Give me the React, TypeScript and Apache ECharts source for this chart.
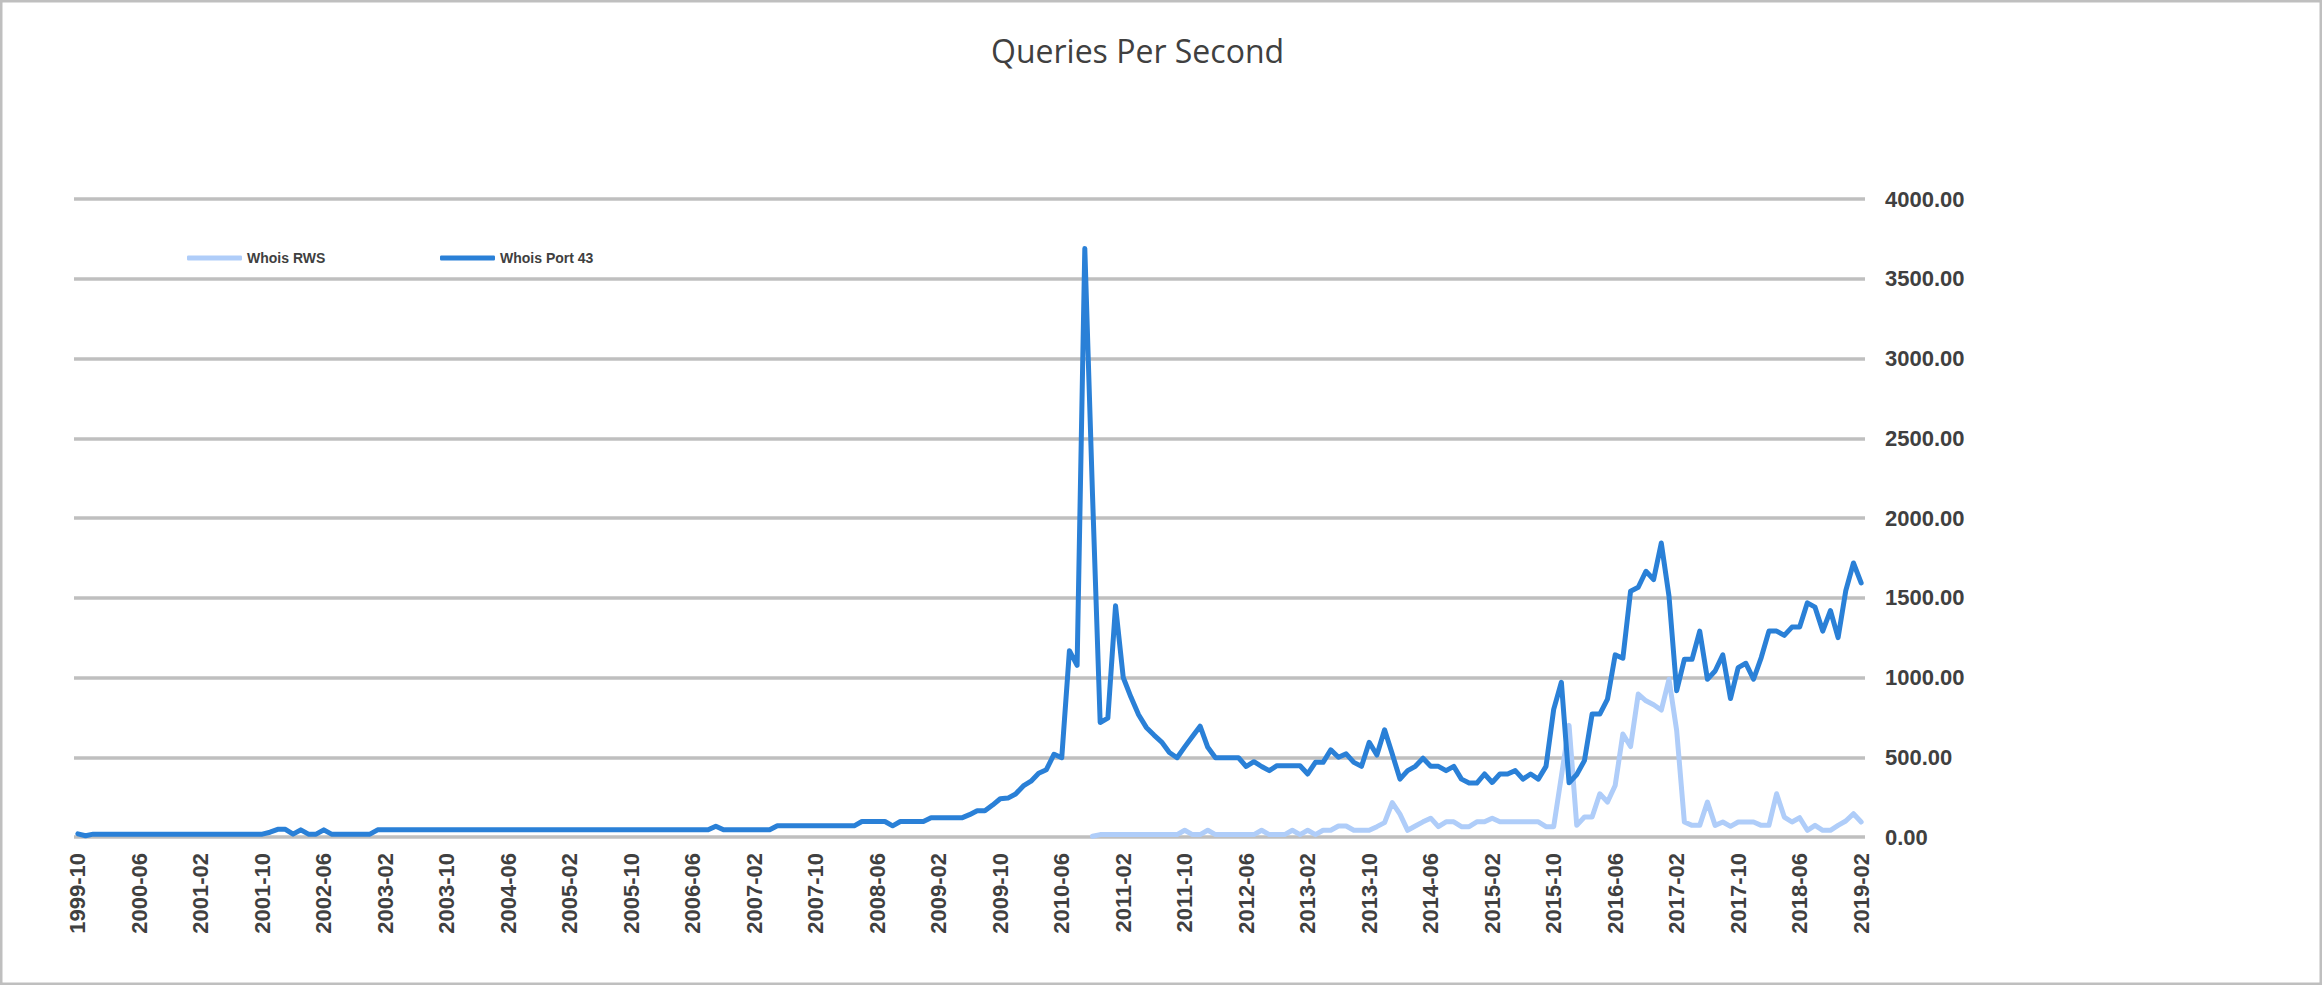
import React, { useEffect, useRef } from "react";
import * as echarts from "echarts";

// ---- categories: monthly, 1999-10 .. 2019-02 ----
const START_YEAR = 1999;
const START_MONTH = 10;
const MONTH_COUNT = 233;
function buildMonths(): string[] {
  const out: string[] = [];
  for (let i = 0; i < MONTH_COUNT; i++) {
    const t = (START_MONTH - 1) + i;
    const y = START_YEAR + Math.floor(t / 12);
    const m = (t % 12) + 1;
    out.push(`${y}-${m < 10 ? "0" + m : m}`);
  }
  return out;
}
const months = buildMonths();

// ---- Whois Port 43 (one value per month, 1999-10 .. 2019-02) ----
const port43Values: number[] = [
  20, 8, 18, 18, 18, 18, 18, 18, 18, 18, 18, 18,
  18, 18, 18, 18, 18, 18, 18, 18, 18, 18, 18, 18,
  18, 30, 48, 48, 18, 45, 18, 18, 45, 18, 18, 18,
  18, 18, 18, 45, 45, 45, 45, 45, 45, 45, 45, 45,
  45, 45, 45, 45, 45, 45, 45, 45, 45, 45, 45, 45,
  45, 45, 45, 45, 45, 45, 45, 45, 45, 45, 45, 45,
  45, 45, 45, 45, 45, 45, 45, 45, 45, 45, 45, 68,
  45, 45, 45, 45, 45, 45, 45, 70, 70, 70, 70, 70,
  70, 70, 70, 70, 70, 70, 97, 97, 97, 97, 70, 97,
  97, 97, 97, 120, 120, 120, 120, 120, 140, 165, 165, 200,
  240, 244, 270, 320, 350, 400, 422, 519, 497, 1168, 1076, 3690,
  2150, 718, 745, 1450, 1000, 877, 766, 687, 639, 595, 530, 497,
  565, 630, 695, 562, 497, 497, 497, 497, 442, 472, 442, 416,
  447, 447, 447, 447, 395, 468, 468, 546, 500, 521, 468, 443,
  594, 514, 672, 520, 363, 416, 443, 494, 443, 443, 416, 443,
  363, 338, 338, 395, 342, 395, 395, 416, 363, 395, 363, 443,
  800, 970, 340, 392, 479, 771, 771, 865, 1142, 1121, 1541, 1566,
  1666, 1614, 1843, 1510, 917, 1114, 1114, 1291, 989, 1041, 1142, 868,
  1062, 1089, 989, 1125, 1291, 1291, 1264, 1316, 1316, 1468, 1441, 1291,
  1420, 1250, 1545, 1718, 1593,
];

// ---- Whois RWS (starts 2010-10) ----
const rwsStartIndex = 132;
const rwsValues: number[] = [
  5, 15, 15, 15, 15, 15, 15, 15, 15, 15, 15, 15,
  42, 15, 15, 42, 15, 15, 15, 15, 15, 15, 42, 15,
  15, 15, 42, 15, 42, 15, 42, 42, 69, 69, 42, 42,
  42, 65, 90, 216, 143, 42, 69, 95, 118, 65, 95, 95,
  65, 65, 95, 95, 118, 95, 95, 95, 95, 95, 95, 65,
  65, 380, 700, 73, 125, 125, 271, 219, 323, 646, 567, 896,
  854, 829, 796, 989, 667, 94, 73, 73, 219, 73, 94, 67,
  94, 94, 94, 73, 73, 271, 125, 94, 121, 42, 73, 42,
  42, 73, 100, 146, 94,
];

const seriesNames = ["Whois RWS", "Whois Port 43"];
const titleText = "Queries Per Second";

const LIGHT = "#AFCDF9";
const DARK = "#2A80D7";
const TEXT = "#404040";
const GRID = "#BFBFBF";

export default function App() {
  const ref = useRef<HTMLDivElement>(null);

  useEffect(() => {
    if (!ref.current) return;
    const chart = echarts.init(ref.current, undefined, { renderer: "svg" });
    const rwsData: (number | null)[] = [];
    for (let i = 0; i < rwsStartIndex; i++) rwsData.push(null);
    rwsValues.forEach((v) => rwsData.push(v));

    const legendText = {
      fontFamily: "Liberation Sans",
      fontWeight: "bold" as const,
      fontSize: 14,
      color: TEXT,
    };

    chart.setOption({
      animation: false,
      backgroundColor: "#ffffff",
      title: {
        text: titleText,
        left: 986,
        top: 29,
        textStyle: {
          fontFamily: "Open Sans",
          fontSize: 32,
          fontWeight: "normal",
          color: TEXT,
        },
      },
      legend: [
        {
          data: [seriesNames[0]],
          left: 182,
          top: 246,
          icon: "roundRect",
          itemWidth: 55,
          itemHeight: 5,
          textStyle: legendText,
        },
        {
          data: [seriesNames[1]],
          left: 435,
          top: 246,
          icon: "roundRect",
          itemWidth: 55,
          itemHeight: 5,
          textStyle: legendText,
        },
      ],
      grid: { left: 74, right: 458, top: 199, bottom: 150 },
      xAxis: {
        type: "category",
        data: months,
        boundaryGap: true,
        axisLine: { show: false },
        axisTick: { show: false },
        axisLabel: {
          interval: 7,
          rotate: 90,
          margin: 16,
          fontFamily: "Liberation Sans",
          fontWeight: "bold",
          fontSize: 22,
          color: TEXT,
        },
      },
      yAxis: {
        type: "value",
        position: "right",
        min: 0,
        max: 4000,
        interval: 500,
        axisLine: { show: false },
        axisTick: { show: false },
        splitLine: { lineStyle: { color: GRID, width: 3.5 } },
        axisLabel: {
          margin: 20,
          formatter: (v: number) => v.toFixed(2),
          fontFamily: "Liberation Sans",
          fontWeight: "bold",
          fontSize: 22,
          color: TEXT,
        },
      },
      series: [
        {
          name: seriesNames[0],
          type: "line",
          data: rwsData,
          symbol: "none",
          connectNulls: false,
          itemStyle: { color: LIGHT },
          lineStyle: { color: LIGHT, width: 5, cap: "round", join: "round" },
          z: 2,
        },
        {
          name: seriesNames[1],
          type: "line",
          data: port43Values,
          symbol: "none",
          itemStyle: { color: DARK },
          lineStyle: { color: DARK, width: 5, cap: "round", join: "round" },
          z: 3,
        },
      ],
      graphic: [
        {
          type: "rect",
          shape: { x: 1.25, y: 1.25, width: 2319.5, height: 982.5 },
          style: { fill: "none", stroke: GRID, lineWidth: 2.5 },
          silent: true,
        },
      ],
    });
    return () => chart.dispose();
  }, []);

  return (
    <div
      ref={ref}
      style={{ position: "fixed", left: 0, top: 0, width: 2323, height: 987, background: "#fff" }}
    />
  );
}
